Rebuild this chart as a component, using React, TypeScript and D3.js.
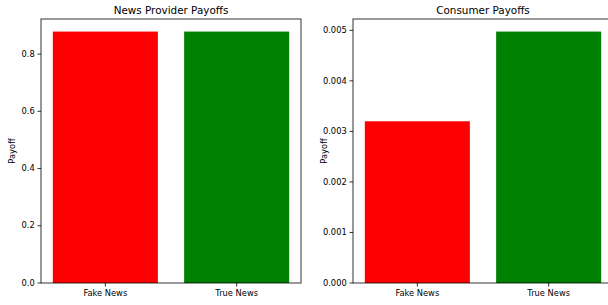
import React from "react";
import * as d3 from "d3";

const categories = ["Fake News", "True News"];
const providerPayoffs = [0.8788, 0.8788];
const consumerPayoffs = [0.0032, 0.004975];
const barColors = ["#ff0000", "#008000"];
const providerTicks = [0, 0.2, 0.4, 0.6, 0.8];
const consumerTicks = [0, 0.001, 0.002, 0.003, 0.004, 0.005];

const W = 608;
const H = 305;
const FONT = "DejaVu Sans, sans-serif";

type PanelProps = {
  title: string;
  values: number[];
  ticks: number[];
  left: number;
  fmt: (v: number) => string;
};

function Panel({ title, values, ticks, left, fmt }: PanelProps) {
  const top = 19;
  const bottom = 283;
  const width = 260;

  const x = d3.scaleLinear().domain([-0.49, 1.49]).range([left, left + width]);
  const y = d3
    .scaleLinear()
    .domain([0, d3.max(values)! * 1.05])
    .range([bottom, top]);

  return (
    <g>
      {values.map((v, i) => (
        <rect
          key={i}
          x={x(i - 0.4)}
          width={x(0.4) - x(-0.4)}
          y={y(v)}
          height={y(0) - y(v)}
          fill={barColors[i]}
        />
      ))}
      <rect
        x={left}
        y={top}
        width={width}
        height={bottom - top}
        fill="none"
        stroke="#000"
        strokeWidth={0.8}
      />
      {ticks.map((t) => (
        <g key={t} transform={`translate(${left},${y(t)})`}>
          <line x1={-3.5} x2={0} stroke="#000" strokeWidth={0.8} />
          <text
            x={-6.3}
            dy="0.32em"
            textAnchor="end"
            fontSize={8.3}
            fontFamily={FONT}
            fill="#000"
          >
            {fmt(t)}
          </text>
        </g>
      ))}
      {categories.map((c, i) => (
        <g key={c} transform={`translate(${x(i)},${bottom})`}>
          <line y1={0} y2={3.5} stroke="#000" strokeWidth={0.8} />
          <text
            y={13.3}
            textAnchor="middle"
            fontSize={8.3}
            fontFamily={FONT}
            fill="#000"
          >
            {c}
          </text>
        </g>
      ))}
      <text
        x={left + width / 2}
        y={14}
        textAnchor="middle"
        fontSize={10.4}
        fontFamily={FONT}
        fill="#000"
      >
        {title}
      </text>
      <text
        transform={`translate(${left - 26.5},${(top + bottom) / 2}) rotate(-90)`}
        textAnchor="middle"
        fontSize={8.3}
        fontFamily={FONT}
        fill="#000"
      >
        Payoff
      </text>
    </g>
  );
}

export default function App() {
  return (
    <svg
      width={W}
      height={H}
      style={{ position: "absolute", left: 0, top: 0, background: "#fff" }}
    >
      <Panel
        title="News Provider Payoffs"
        values={providerPayoffs}
        ticks={providerTicks}
        left={41}
        fmt={d3.format(".1f")}
      />
      <Panel
        title="Consumer Payoffs"
        values={consumerPayoffs}
        ticks={consumerTicks}
        left={353}
        fmt={d3.format(".3f")}
      />
    </svg>
  );
}
